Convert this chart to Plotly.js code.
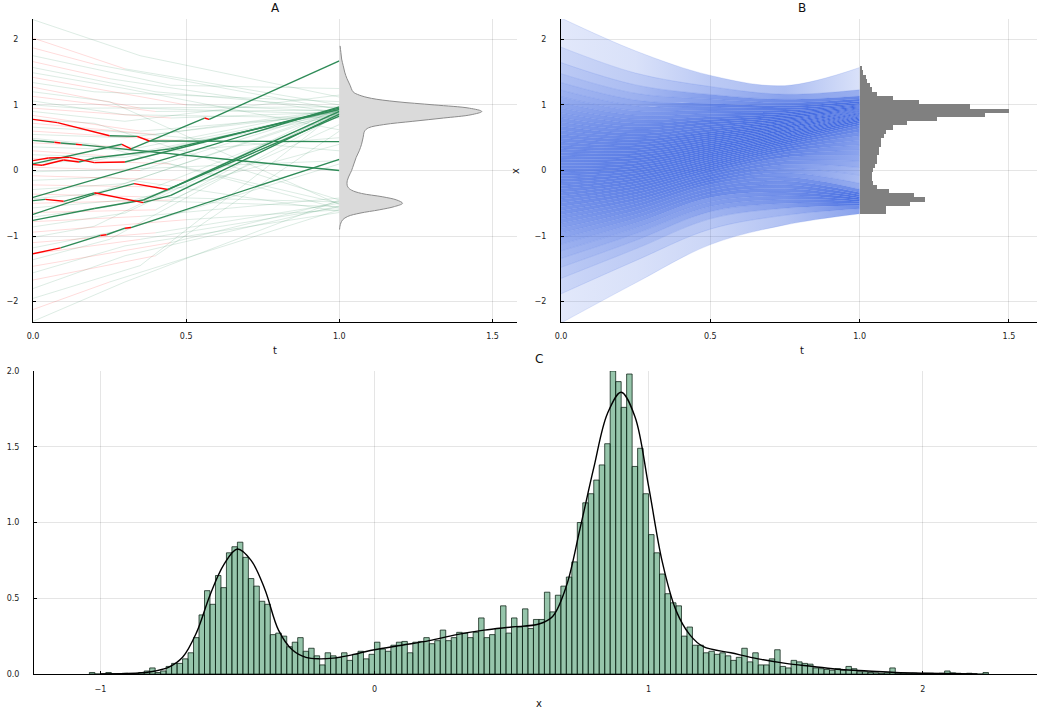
<!DOCTYPE html>
<html><head><meta charset="utf-8">
<script src="https://cdn.plot.ly/plotly-3.0.1.min.js"></script>
<style>html,body{margin:0;padding:0;background:#fff}#plot{width:1037px;height:713px}</style>
</head><body><div id="plot"></div>
<script>
// ---------- shared density (black curve in C, grey curve in A) ----------
const densX = [-1.0,-0.9,-0.85,-0.8,-0.75,-0.7,-0.65,-0.6,-0.55,-0.5,-0.45,-0.4,-0.35,-0.3,-0.25,-0.2,-0.15,-0.1,-0.05,0,0.1,0.2,0.3,0.4,0.5,0.6,0.65,0.7,0.75,0.8,0.85,0.9,0.95,1.0,1.05,1.1,1.15,1.2,1.3,1.4,1.5,1.6,1.7,1.8,1.9,2.0,2.2];
const densY = [0,0.003,0.008,0.02,0.045,0.11,0.27,0.52,0.72,0.825,0.75,0.56,0.29,0.16,0.11,0.10,0.105,0.12,0.14,0.16,0.19,0.22,0.26,0.29,0.31,0.33,0.38,0.58,0.96,1.36,1.72,1.86,1.70,1.24,0.74,0.42,0.26,0.18,0.14,0.10,0.07,0.05,0.03,0.02,0.01,0.005,0];

// ---------- C histogram ----------
const histLo = -1.04, histBin = 0.02;
const histHeights = [
0.01,0,0,0.01,0,0,0.005,0.003,0.003,0.01,0.02,0.04,0.01,0.02,0.05,0.07,0.07,0.10,0.14,0.24,
0.39,0.55,0.46,0.65,0.57,0.80,0.84,0.87,0.77,0.63,0.58,0.48,0.46,0.26,0.27,0.25,0.18,0.21,0.24,0.15,
0.17,0.12,0.06,0.14,0.12,0.11,0.14,0.09,0.13,0.15,0.10,0.13,
0.21,0.165,0.15,0.19,0.21,0.215,0.14,0.21,0.215,0.24,0.20,0.22,0.29,0.22,0.24,0.275,0.27,0.24,0.275,0.37,
0.24,0.26,0.30,0.45,0.27,0.37,0.31,0.43,0.30,0.36,0.36,0.54,0.41,0.52,0.58,0.64,0.74,1.00,1.13,1.19,
1.28,1.38,1.52,2.00,1.93,1.76,1.98,1.37,1.49,1.19,0.92,0.80,0.66,0.53,0.47,0.45,0.25,0.31,0.19,0.19,
0.14,0.15,0.13,0.14,0.12,0.09,0.11,0.17,0.08,0.14,0.06,0.06,0.10,0.16,0.05,0.04,0.09,0.08,0.07,0.065,
0.04,0.035,0.03,0.025,0.035,0.025,0.05,0.035,0.015,0.015,0.01,0.008,0.005,0.008,0.04,0.005,0.005,0.003,0.005,0.003,
0.005,0.005,0.003,0.005,0.02,0.008,0.005,0,0.005,0,0,0.01];

// ---------- B side histogram (horizontal) ----------
const bHistLo = -0.67, bHistBin = 0.0646;
const bHistDens = [0.33,0.33,0.63,0.81,0.67,0.37,0.22,0.17,0.15,0.15,0.17,0.19,0.22,0.22,0.24,0.24,0.26,0.26,0.30,0.33,0.41,0.59,0.96,1.56,1.85,1.37,0.74,0.41,0.22,0.15,0.13,0.09,0.074,0.044,0.03];

// ---------- B fan of paths ----------
const fanT = [0, 0.25, 0.5, 0.75, 1];
const fanAt0 = [-2.326,-1.881,-1.645,-1.476,-1.341,-1.227,-1.126,-1.036,-0.954,-0.878,-0.806,-0.739,-0.674,-0.613,-0.553,-0.496,-0.440,-0.385,-0.332,-0.279,-0.228,-0.176,-0.126,-0.075,-0.025,0.025,0.075,0.126,0.176,0.228,0.279,0.332,0.385,0.440,0.496,0.553,0.613,0.674,0.739,0.806,0.878,0.954,1.036,1.126,1.227,1.341,1.476,1.645,1.881,2.326];
const fanAt25 = [-1.713,-1.375,-1.195,-1.067,-0.964,-0.878,-0.801,-0.732,-0.670,-0.612,-0.558,-0.507,-0.457,-0.411,-0.365,-0.322,-0.279,-0.238,-0.197,-0.157,-0.118,-0.079,-0.041,-0.002,0.036,0.074,0.112,0.151,0.189,0.228,0.267,0.307,0.348,0.389,0.432,0.475,0.521,0.567,0.617,0.668,0.722,0.780,0.842,0.911,0.988,1.074,1.177,1.305,1.485,1.823];
const fanAt50 = [-1.13,-0.894,-0.737,-0.628,-0.549,-0.479,-0.410,-0.359,-0.311,-0.262,-0.214,-0.173,-0.136,-0.099,-0.062,-0.025,0.010,0.042,0.073,0.104,0.136,0.167,0.199,0.228,0.258,0.287,0.317,0.346,0.376,0.406,0.437,0.468,0.499,0.530,0.561,0.592,0.628,0.665,0.703,0.740,0.777,0.820,0.871,0.922,0.973,1.02,1.09,1.16,1.28,1.45];
const fanAt75 = [-0.83,-0.683,-0.575,-0.502,-0.442,-0.384,-0.329,-0.274,-0.218,-0.160,-0.100,-0.036,0.028,0.090,0.145,0.200,0.243,0.286,0.322,0.355,0.388,0.416,0.442,0.468,0.494,0.517,0.539,0.561,0.583,0.604,0.624,0.645,0.665,0.686,0.706,0.728,0.749,0.770,0.791,0.815,0.840,0.865,0.890,0.921,0.955,0.989,1.034,1.085,1.162,1.294];
const fanAt100 = [-0.66,-0.582,-0.532,-0.502,-0.472,-0.448,-0.424,-0.399,-0.370,-0.337,-0.285,-0.194,-0.070,0.045,0.141,0.229,0.310,0.388,0.461,0.531,0.591,0.642,0.689,0.722,0.752,0.772,0.793,0.813,0.826,0.838,0.851,0.863,0.875,0.887,0.897,0.908,0.918,0.928,0.939,0.950,0.964,0.978,0.993,1.007,1.031,1.057,1.089,1.135,1.231,1.57];

// ---------- A faint paths: start, switch point, end; first piece red (1) or green (0) ----------
const faintY0 = [2.30,2.02,1.87,1.75,1.66,1.57,1.49,1.42,1.34,1.27,1.20,1.13,1.06,1.00,0.95,0.90,0.84,0.78,0.72,0.66,0.60,0.55,0.49,0.42,0.36,0.30,0.24,0.18,0.12,0.05,-0.02,-0.08,-0.15,-0.22,-0.29,-0.36,-0.43,-0.50,-0.57,-0.64,-0.71,-0.78,-0.86,-0.94,-1.02,-1.10,-1.18,-1.27,-1.36,-1.46,-1.56,-1.67,-1.80,-1.95,-2.12,-2.30];
const faintTm = [0.35,0.30,0.20,0.45,0.25,0.40,0.30,0.50,0.20,0.35,0.25,0.40,0.30,0.15,0.45,0.30,0.35,0.20,0.40,0.25,0.50,0.30,0.20,0.35,0.40,0.25,0.30,0.45,0.20,0.35,0.30,0.50,0.25,0.40,0.30,0.35,0.20,0.45,0.30,0.40,0.25,0.35,0.30,0.50,0.20,0.40,0.30,0.35,0.25,0.45,0.30,0.40,0.30,0.35,0.25,0.30];
const faintYm = [1.75,1.55,1.62,1.30,1.40,1.20,1.25,1.00,1.20,0.95,1.05,0.90,0.85,0.95,0.80,0.75,0.60,0.72,0.55,0.60,0.45,0.50,0.40,0.35,0.30,0.22,0.20,0.10,0.15,0.00,0.02,-0.15,-0.10,-0.25,-0.20,-0.40,-0.35,-0.45,-0.45,-0.60,-0.55,-0.70,-0.65,-0.75,-0.85,-0.95,-0.90,-1.05,-1.05,-1.10,-1.15,-1.30,-1.30,-1.45,-1.70,-1.70];
const faintY1 = [1.12,1.00,0.93,1.25,0.88,0.95,0.62,0.90,1.05,0.86,-0.52,0.92,0.80,0.97,0.89,1.15,0.85,-0.45,0.93,0.30,0.90,0.88,-0.58,0.95,0.84,0.50,0.91,-0.50,0.87,0.94,0.15,0.90,-0.62,0.86,0.92,-0.48,0.89,0.70,-0.55,0.93,0.40,-0.42,0.88,-0.60,0.96,-0.50,0.10,-0.56,0.85,-0.47,-0.64,0.60,-0.54,0.91,-0.60,-0.45];
const faintRed = [0,1,1,0,1,0,0,1,0,1,0,1,0,0,1,0,1,0,1,0,1,0,0,1,0,1,0,1,0,1,0,1,0,1,0,1,0,1,0,1,0,1,0,1,0,1,0,1,0,1,0,1,0,0,1,0];

// ---------- A highlighted paths ----------
const boldT = [
  [0,0.08,0.25,0.34,0.38,1],
  [0,0.07,0.09,0.14,0.16,1],
  [0,0.29,0.32,0.56,0.575,1],
  [0,0.05,0.12,0.2,0.3,1],
  [0,0.03,0.1,0.15,0.2,0.45,1],
  [0,0.45,1],
  [0,0.04,0.1,0.2,0.36,0.45,1],
  [0,0.2,0.33,0.44,1],
  [0,0.2,0.36,1],
  [0,0.09,0.22,0.24,0.30,0.32,1]
];
const boldY = [
  [0.78,0.73,0.53,0.52,0.45,0.44],
  [0.46,0.43,0.42,0.40,0.39,0.0],
  [0.10,0.40,0.33,0.80,0.78,1.67],
  [0.15,0.19,0.20,0.12,0.13,0.95],
  [0.09,0.08,0.16,0.13,0.19,0.33,0.93],
  [-0.41,0.20,0.97],
  [-0.46,-0.44,-0.47,-0.34,-0.49,-0.38,0.86],
  [-0.67,-0.36,-0.20,-0.29,0.90],
  [-0.76,-0.58,-0.45,0.83],
  [-1.27,-1.18,-0.99,-0.98,-0.88,-0.87,0.17]
];
const boldC = ['rrgrg','grgrg','grgrg','rrrrg','rrrggg','gg','grgrgg','ggrg','ggg','rgrgrg'];

// ================= build traces =================
const GREEN = '#2E8B57', RED = '#FF0000', BLUE = '65,105,225';
const traces = [];

// --- A faint
const fg = {x:[],y:[]}, fr = {x:[],y:[]};
for (let i=0;i<faintY0.length;i++){
  if (faintRed[i]) { fr.x.push(0,faintTm[i],null); fr.y.push(faintY0[i],faintYm[i],null); }
  else { fg.x.push(0,faintTm[i],null); fg.y.push(faintY0[i],faintYm[i],null); }
  fg.x.push(faintTm[i],1,null); fg.y.push(faintYm[i],faintY1[i],null);
}
traces.push({x:fg.x,y:fg.y,mode:'lines',line:{color:'rgba(46,139,87,0.16)',width:1},xaxis:'x',yaxis:'y',hoverinfo:'skip'});
traces.push({x:fr.x,y:fr.y,mode:'lines',line:{color:'rgba(255,0,0,0.14)',width:1},xaxis:'x',yaxis:'y',hoverinfo:'skip'});

// --- A bold
const bg = {x:[],y:[]}, br = {x:[],y:[]};
boldT.forEach((tt,p)=>{
  for (let k=0;k<tt.length-1;k++){
    const tgt = boldC[p][k]==='r' ? br : bg;
    tgt.x.push(tt[k],tt[k+1],null); tgt.y.push(boldY[p][k],boldY[p][k+1],null);
  }
});
traces.push({x:bg.x,y:bg.y,mode:'lines',line:{color:GREEN,width:1.4},xaxis:'x',yaxis:'y',hoverinfo:'skip'});
traces.push({x:br.x,y:br.y,mode:'lines',line:{color:RED,width:1.4},xaxis:'x',yaxis:'y',hoverinfo:'skip'});

// --- A grey density at t = 1
const aScale = 0.25;
const aY = [], aX = [];
densX.forEach((v,i)=>{ if (v>=-0.9 && v<=1.9){ aY.push(v); aX.push(1+aScale*densY[i]); } });
traces.push({x:[1].concat(aX,[1]), y:[aY[0]].concat(aY,[aY[aY.length-1]]), mode:'lines', fill:'toself',
  fillcolor:'rgb(218,218,218)', line:{width:0,shape:'spline'}, xaxis:'x',yaxis:'y',hoverinfo:'skip'});
traces.push({x:aX,y:aY,mode:'lines',line:{color:'#8c8c8c',width:1,shape:'spline'},xaxis:'x',yaxis:'y',hoverinfo:'skip'});

// --- B fan: bands between neighbouring paths, shade follows how close the paths are
const fan = fanAt0.map((_,i)=>[fanAt0[i],fanAt25[i],fanAt50[i],fanAt75[i],fanAt100[i]]);
const shade = g => Math.min(1, 1-Math.exp(-0.075/Math.max(g,1e-4)));
for (let i=0;i<fan.length;i++){
  const tr = {x:fanT, y:fan[i], mode:'lines',
    line:{color:'rgba('+BLUE+',0.22)',width:0.7,shape:'spline'},
    xaxis:'x2',yaxis:'y2',hoverinfo:'skip'};
  if (i>0){
    const alphas = fanT.map((t,j)=>shade(fan[i][j]-fan[i-1][j]));
    tr.fill = 'tonexty';
    tr.fillcolor = 'rgba('+BLUE+',0.5)';
    tr.fillgradient = {type:'horizontal', start:0, stop:1,
      colorscale: fanT.map((t,j)=>[t,'rgba('+BLUE+','+alphas[j].toFixed(3)+')'])};
  }
  traces.push(tr);
}
// --- B side histogram
const bScale = 0.27;
traces.push({type:'bar',orientation:'h',base:1,
  y:bHistDens.map((d,i)=>bHistLo+bHistBin*(i+0.5)), x:bHistDens.map(d=>bScale*d),
  width:bHistBin, marker:{color:'#808080',line:{width:0}}, xaxis:'x2',yaxis:'y2',hoverinfo:'skip'});

// --- C histogram + density
traces.push({type:'bar', x:histHeights.map((h,i)=>histLo+histBin*(i+0.5)), y:histHeights, width:histBin,
  marker:{color:'rgba(46,139,87,0.5)',line:{color:'rgba(10,30,18,0.75)',width:1}}, xaxis:'x3',yaxis:'y3',hoverinfo:'skip'});
traces.push({x:densX,y:densY,mode:'lines',line:{color:'#000',width:1.4,shape:'spline'},xaxis:'x3',yaxis:'y3',hoverinfo:'skip'});

// ================= layout =================
const tf = {family:'DejaVu Sans, sans-serif', size:8, color:'#222'};
function ax(extra){
  return Object.assign({showline:true,linecolor:'#000',linewidth:1,mirror:false,showgrid:true,
    gridcolor:'rgba(0,0,0,0.1)',gridwidth:1,zeroline:false,ticks:'inside',ticklen:3,tickcolor:'#000',
    tickfont:tf,fixedrange:true}, extra);
}
const W=1037,H=713;
const px = v=>v/W, py = v=>1-v/H;
const tLabels = {tickvals:[0,0.5,1,1.5], ticktext:['0.0','0.5','1.0','1.5']};
const xLabelsY = {tickvals:[-2,-1,0,1,2], ticktext:['\u22122','\u22121','0','1','2']};
function lab(text,x,y,size,angle){
  return {text:text,x:px(x),y:py(y),xref:'paper',yref:'paper',showarrow:false,xanchor:'center',yanchor:'middle',
    textangle:angle||0,font:{size:size,color:'#111',family:'DejaVu Sans, sans-serif'}};
}
const layout = {
  width:W,height:H,margin:{l:0,r:0,t:0,b:0},paper_bgcolor:'#fff',plot_bgcolor:'#fff',
  showlegend:false,barmode:'overlay',bargap:0,
  font:{family:'DejaVu Sans, sans-serif',color:'#222'},
  xaxis: ax(Object.assign({domain:[px(33),px(517)],range:[0,1.58],anchor:'y',ticklabelstandoff:6},tLabels)),
  yaxis: ax(Object.assign({domain:[py(322),py(19)],range:[-2.31,2.31],anchor:'x',ticklabelstandoff:12},xLabelsY)),
  xaxis2: ax(Object.assign({domain:[px(561),1],range:[0,1.594],anchor:'y2',ticklabelstandoff:6},tLabels)),
  yaxis2: ax(Object.assign({domain:[py(322),py(19)],range:[-2.31,2.31],anchor:'x2',ticklabelstandoff:12},xLabelsY)),
  xaxis3: ax({domain:[px(34),1],range:[-1.242,2.417],anchor:'y3',tickvals:[-1,0,1,2],ticktext:['\u22121','0','1','2'],ticklabelstandoff:7}),
  yaxis3: ax({domain:[py(674),py(371)],range:[0,2.0],anchor:'x3',tickvals:[0,0.5,1,1.5,2],ticktext:['0.0','0.5','1.0','1.5','2.0'],ticklabelstandoff:12}),
  annotations:[
    lab('A',275,8,12), lab('B',802,8,12), lab('C',539,359,12),
    lab('t',275,351,10), lab('t',802,351,10), lab('x',539,703,10), lab('x',516,171,10,-90)
  ]
};
Plotly.newPlot('plot',traces,layout,{staticPlot:true,displayModeBar:false});
</script></body></html>
